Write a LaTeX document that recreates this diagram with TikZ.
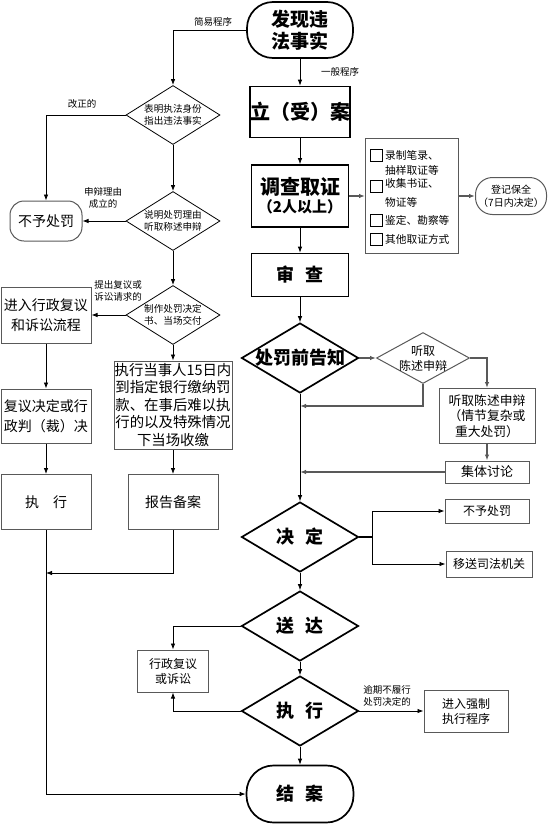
\documentclass[tikz,border=0pt]{standalone}
\usepackage{fontspec}
\setmainfont{Noto Sans CJK SC}
\usetikzlibrary{shapes.geometric,arrows.meta}
\definecolor{dgray}{gray}{0.35}
\newcommand{\fsz}[2]{\fontsize{#1pt}{#2pt}\selectfont}
\begin{document}
\begin{tikzpicture}[x=1pt,y=-1pt,
  every node/.style={inner sep=0pt, align=center},
  tk/.style={draw, line width=1.7pt, font=\bfseries},
  tn/.style={draw=dgray, line width=1pt},
  dia/.style={diamond, draw, inner sep=0pt},
  bigdia/.style={dia, line width=1.7pt, minimum width=117pt, minimum height=70pt},
  smalldia/.style={dia, line width=0.8pt, minimum width=94pt, minimum height=59pt},
  arr/.style={-{Latex[length=6pt,width=4.5pt]}, line width=0.8pt},
  garr/.style={arr, draw=dgray, line width=1.2pt},
  lbl/.style={font=\fsz{9.5}{12}},
  chk/.style={draw, line width=0.7pt, minimum size=12pt},
  chktext/.style={anchor=west, align=left, font=\fsz{10.7}{15}},
]
\useasboundingbox (0,0) rectangle (549,825);

% ---------- right main column ----------
\node[tk, rounded corners=26pt, minimum width=106pt, minimum height=56pt, font=\bfseries\fsz{19}{22}] (start) at (300,30) {发现违\\法事实};
\node[tk, minimum width=99pt, minimum height=51pt, font=\bfseries\fsz{20}{24}] (lian) at (300,112) {立（受）案};
\node[tk, minimum width=97pt, minimum height=62pt] (diao) at (300,196) {{\fsz{20}{24}调查取证}\\[2pt]{\fsz{15}{18}（2人以上）}};
\node[tk, minimum width=97pt, minimum height=43pt, font=\bfseries\fsz{18}{22}] (shen) at (300,275) {审\hspace{0.6em}查};
\node[bigdia, label={[font=\bfseries\fsz{18}{22}]center:处罚前告知}] (notice) at (300,358) {};
\node[bigdia, label={[font=\bfseries\fsz{18}{22}]center:决\hspace{0.6em}定}] (jd) at (300,537) {};
\node[bigdia, label={[font=\bfseries\fsz{18}{22}]center:送\hspace{0.6em}达}] (sd) at (300,626) {};
\node[bigdia, label={[font=\bfseries\fsz{18}{22}]center:执\hspace{0.6em}行}] (zx) at (300,711) {};
\node[tk, rounded corners=27pt, minimum width=107pt, minimum height=57pt, font=\bfseries\fsz{18}{22}] (end) at (300,794) {结\hspace{0.6em}案};

% ---------- evidence list ----------
\node[tn, minimum width=93pt, minimum height=115pt] (list) at (412,196) {};
\node[chk] (c1) at (376,155) {};
\node[chk] (c2) at (376,186) {};
\node[chk] (c3) at (376,220) {};
\node[chk] (c4) at (376,239) {};
\node[chktext] (t1) at (385,162.5) {录制笔录、\\抽样取证等};
\node[chktext, font=\fsz{10.7}{19}] (t2) at (385,192.5) {收集书证、\\物证等};
\node[chktext] (t3) at (385,220) {鉴定、勘察等};
\node[chktext] (t4) at (385,239) {其他取证方式};
\node[tn, rounded corners=17pt, minimum width=71pt, minimum height=37pt, font=\fsz{10}{13}] (reg) at (511,196) {登记保全\\（7日内决定）};

% ---------- hearing branch ----------
\node[dia, draw=dgray, line width=1pt, minimum width=93pt, minimum height=51pt, label={[font=\fsz{12}{15}]center:听取\\陈述申辩}] (tingd) at (423,358) {};
\node[tn, minimum width=96pt, minimum height=55pt, font=\fsz{12.8}{15.5}] (tingbox) at (487,416) {听取陈述申辩\\（情节复杂或\\重大处罚）};
\node[tn, minimum width=84pt, minimum height=22pt, font=\fsz{13}{15}] (jiti) at (487,472) {集体讨论};
\node[tn, minimum width=84pt, minimum height=24pt, font=\fsz{12}{14}] (nop2) at (487,511) {不予处罚};
\node[tn, minimum width=86pt, minimum height=26pt, font=\fsz{12}{14}] (ys) at (489,564) {移送司法机关};
\node[tn, minimum width=84pt, minimum height=42pt, font=\fsz{12}{15}] (qz) at (466,711) {进入强制\\执行程序};
\node[tn, minimum width=71pt, minimum height=42pt, font=\fsz{12}{15}] (fy) at (173,671) {行政复议\\或诉讼};

% ---------- simple procedure (left) ----------
\node[smalldia, label={[font=\fsz{9.6}{12}]center:表明执法身份\\指出违法事实}] (d1) at (173,115) {};
\node[smalldia, label={[font=\fsz{9.6}{12}]center:说明处罚理由\\听取称述申辩}] (d2) at (173,221) {};
\node[smalldia, label={[font=\fsz{9.6}{12}]center:制作处罚决定\\书、当场交付}] (d3) at (173,315) {};
\node[tn, rounded corners=14pt, minimum width=72pt, minimum height=40pt, font=\fsz{14}{17}] (nop1) at (46,221) {不予处罚};
\node[tn, minimum width=90pt, minimum height=56pt, font=\fsz{14}{20}] (rev) at (46,315) {进入行政复议\\和诉讼流程};
\node[tn, minimum width=118pt, minimum height=88pt, font=\fsz{14.4}{17.5}] (pay) at (173,405) {执行当事人15日内\\到指定银行缴纳罚\\款、在事后难以执\\行的以及特殊情况\\下当场收缴};
\node[tn, minimum width=90pt, minimum height=54pt, font=\fsz{14}{20}] (fyjd) at (46,416) {复议决定或行\\政判（裁）决};
\node[tn, minimum width=90pt, minimum height=55pt, font=\fsz{14}{17}] (zxL) at (46,502) {执\hspace{1em}行};
\node[tn, minimum width=90pt, minimum height=55pt, font=\fsz{14}{17}] (bg) at (173,502) {报告备案};

% ---------- edge labels ----------
\node[lbl] (l1) at (213,22) {简易程序};
\node[lbl] (l2) at (340,72) {一般程序};
\node[lbl] (l3) at (82,104) {改正的};
\node[lbl] (l4) at (103,198) {申辩理由\\成立的};
\node[lbl] (l5) at (118,291) {提出复议或\\诉讼请求的};
\node[lbl] (l6) at (387,696) {逾期不履行\\处罚决定的};

% ---------- coordinates ----------
\coordinate (j1) at (46,573);
\coordinate (j2) at (300,406);
\coordinate (jb) at (372,537);

% ---------- connectors (left) ----------
\draw[arr] (start.west) -| (d1.north);
\draw[arr] (d1.south) -- (d2.north);
\draw[arr] (d2.south) -- (d3.north);
\draw[arr] (d1.west) -| (nop1.north);
\draw[arr] (d2.west) -- (nop1.east);
\draw[arr] (d3.west) -- (rev.east);
\draw[arr] (d3.south) -- (pay.north);
\draw[arr] (rev.south) -- (fyjd.north);
\draw[arr] (fyjd.south) -- (zxL.north);
\draw[arr] (pay.south) -- (bg.north);
\draw[arr] (bg.south) |- (j1);
\draw[arr] (zxL.south) |- (end.west);

% ---------- connectors (right) ----------
\draw[arr] (start.south) -- (lian.north);
\draw[arr] (lian.south) -- (diao.north);
\draw[arr] (diao.south) -- (shen.north);
\draw[arr] (shen.south) -- (notice.north);
\draw[garr] (diao.east) -- (list.west);
\draw[garr] (list.east) -- (reg.west);
\draw[garr] (notice.east) -- (tingd.west);
\draw[garr] (tingd.east) -| (tingbox.north);
\draw[garr] (tingd.south) |- (j2);
\draw[garr] (tingbox.south) -- (jiti.north);
\draw[garr] (jiti.west) -- (jiti.west -| notice.south);
\draw[arr] (notice.south) -- (jd.north);
\draw[line width=1.2pt] (jd.east) -- (jb);
\draw[arr] (jb) |- (nop2.west);
\draw[arr] (jb) |- (ys.west);
\draw[arr] (jd.south) -- (sd.north);
\draw[arr] (sd.south) -- (zx.north);
\draw[arr] (zx.south) -- (end.north);
\draw[arr] (sd.west) -| (fy.north);
\draw[arr] (zx.west) -| (fy.south);
\draw[arr] (zx.east) -- (qz.west);
\end{tikzpicture}
\end{document}
